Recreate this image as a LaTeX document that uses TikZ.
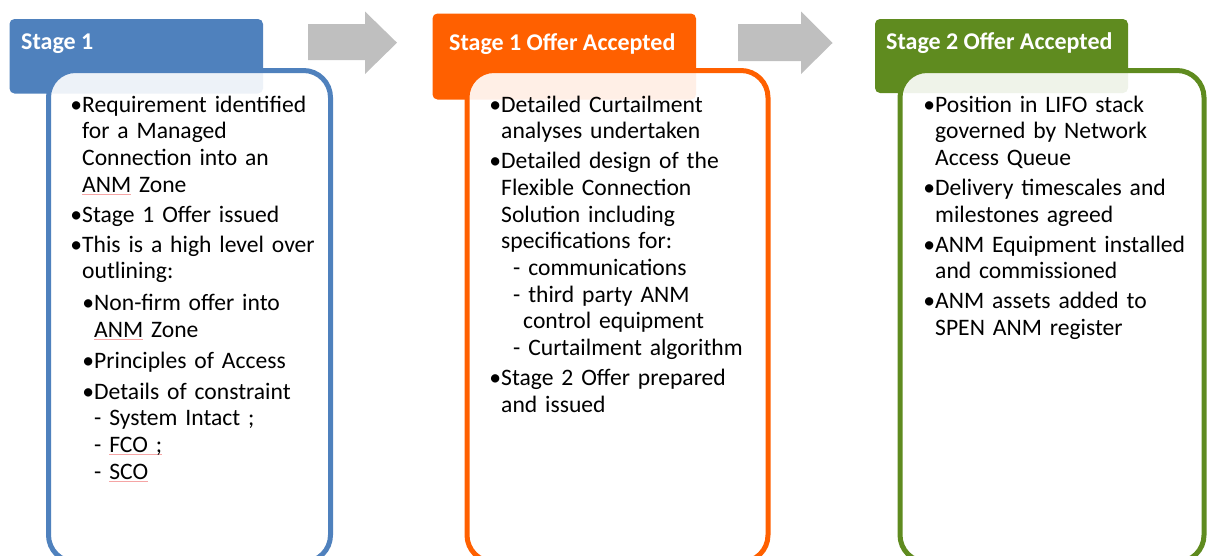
\documentclass[tikz,border=0pt]{standalone}
\usepackage{fontspec}
\setmainfont{Carlito}
\definecolor{stageblue}{RGB}{79,129,189}
\definecolor{stageorange}{RGB}{255,96,0}
\definecolor{stagegreen}{RGB}{95,139,31}
\definecolor{arrowgrey}{RGB}{191,191,191}
\definecolor{spellred}{RGB}{245,165,165}
\newcommand{\spellmark}[1]{\leavevmode\setbox0=\hbox{#1}\rlap{\textcolor{spellred}{\rule[-2.6pt]{\wd0}{0.8pt}}}\box0\relax}
\newcommand{\bul}{\leavevmode\llap{•}}
\begin{document}
\begin{tikzpicture}[x=1pt,y=-1pt,
  hdr/.style={rounded corners=5pt},
  hdrtext/.style={anchor=base west,inner sep=0pt,text=white,font=\fontsize{24}{28}\selectfont\bfseries},
  bodybox/.style={line width=5pt,fill=white,fill opacity=0.9,rounded corners=27pt},
  bodytext/.style={anchor=base west,inner sep=0pt,text width=#1,align=left,font=\fontsize{23.6}{26.7}\selectfont},
  nextarrow/.style={fill=arrowgrey}]
\useasboundingbox (0,0) rectangle (1207,555);
\clip (0,0) rectangle (1207,555);
% stage 1
\fill[hdr,stageblue] (9.5,19) rectangle (263,93.5);
\node[hdrtext] (h1) at (21,49.3) {Stage 1};
\filldraw[bodybox,draw=stageblue] (48.5,70.5) rectangle (330.5,562);
\node[bodytext=245pt] (t1) at (82,112) {\bul Requirement identified\\
for a Managed\\
Connection into an\\
\spellmark{ANM} Zone\\[3.3pt]
\bul Stage 1 Offer issued\\[3.3pt]
\bul This is a high level over\\
outlining:\\[4.5pt]
\hspace*{12pt}\bul Non-firm offer into\\[0.5pt]
\hspace*{12pt}\spellmark{ANM} Zone\\[4.5pt]
\hspace*{12pt}\bul Principles of Access\\[4pt]
\hspace*{12pt}\bul Details of constraint\\
\hspace*{12pt}- System Intact ;\\
\hspace*{12pt}- \spellmark{FCO ;}\\
\hspace*{12pt}- \spellmark{SCO}};
% stage 1 offer accepted
\fill[hdr,stageorange] (432.5,13.5) rectangle (696,99.5);
\node[hdrtext] (h2) at (449,50) {Stage 1 Offer Accepted};
\filldraw[bodybox,draw=stageorange] (467,70.5) rectangle (768,562);
\node[bodytext=262pt] (t2) at (501,112) {\bul Detailed Curtailment\\
analyses undertaken\\[3.3pt]
\bul Detailed design of the\\
Flexible Connection\\
Solution including\\
specifications for:\\
\hspace*{12pt}- communications\\
\hspace*{12pt}- third party ANM\\
\hspace*{22pt}control equipment\\
\hspace*{12pt}- Curtailment algorithm\\[3.3pt]
\bul Stage 2 Offer prepared\\
and issued};
% stage 2 offer accepted
\fill[hdr,stagegreen] (875,19) rectangle (1128,93);
\node[hdrtext] (h3) at (886,49.5) {Stage 2 Offer Accepted};
\filldraw[bodybox,draw=stagegreen] (900,70.5) rectangle (1204,562);
\node[bodytext=265pt] (t3) at (935,112) {\bul Position in LIFO stack\\
governed by Network\\
Access Queue\\[3.3pt]
\bul Delivery timescales and\\
milestones agreed\\[3.3pt]
\bul ANM Equipment installed\\
and commissioned\\[3.3pt]
\bul ANM assets added to\\
SPEN ANM register};
% arrows
\fill[nextarrow] (308,24) -- (365,24) -- (365,11.5) -- (397,42.7) -- (365,74) -- (365,60) -- (308,60) -- cycle;
\fill[nextarrow] (738,24) -- (801,24) -- (801,11.5) -- (832.5,43) -- (801,74) -- (801,61) -- (738,61) -- cycle;
\end{tikzpicture}
\end{document}
